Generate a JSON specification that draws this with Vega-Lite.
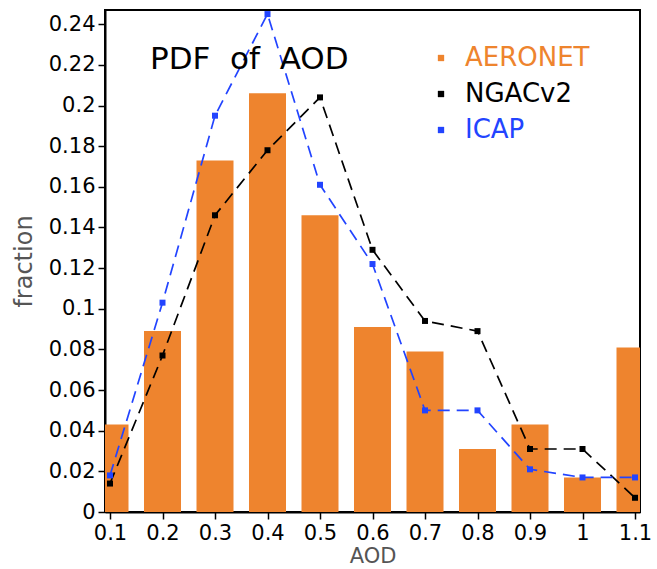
{
  "$schema": "https://vega.github.io/schema/vega-lite/v6.json",
  "width": 535,
  "height": 502,
  "autosize": {"type": "none"},
  "padding": {"left": 105, "top": 10, "right": 17, "bottom": 57},
  "background": "white",
  "config": {
    "font": "DejaVu Sans",
    "view": {"stroke": "black", "strokeWidth": 2},
    "axis": {
      "domainColor": "black", "domainWidth": 2,
      "tickColor": "black", "tickWidth": 1.5, "tickSize": 7,
      "labelColor": "black", "labelFont": "DejaVu Sans", "labelFontSize": 21,
      "titleFont": "DejaVu Sans", "titleFontWeight": "normal", "titleColor": "#555555",
      "grid": false
    }
  },
  "title": {
    "text": "PDF\u00a0\u00a0of\u00a0\u00a0AOD",
    "font": "DejaVu Sans",
    "fontSize": 31,
    "fontWeight": "normal",
    "color": "black",
    "anchor": "start",
    "frame": "group",
    "dx": 45,
    "offset": -66
  },
  "datasets": {
    "aeronet": [
      {"aod": 0.1, "value": 0.043, "series": "AERONET"},
      {"aod": 0.2, "value": 0.089, "series": "AERONET"},
      {"aod": 0.3, "value": 0.173, "series": "AERONET"},
      {"aod": 0.4, "value": 0.206, "series": "AERONET"},
      {"aod": 0.5, "value": 0.146, "series": "AERONET"},
      {"aod": 0.6, "value": 0.091, "series": "AERONET"},
      {"aod": 0.7, "value": 0.079, "series": "AERONET"},
      {"aod": 0.8, "value": 0.031, "series": "AERONET"},
      {"aod": 0.9, "value": 0.043, "series": "AERONET"},
      {"aod": 1.0, "value": 0.017, "series": "AERONET"},
      {"aod": 1.1, "value": 0.081, "series": "AERONET"}
    ],
    "models": [
      {"aod": 0.1, "value": 0.014, "series": "NGACv2"},
      {"aod": 0.2, "value": 0.077, "series": "NGACv2"},
      {"aod": 0.3, "value": 0.146, "series": "NGACv2"},
      {"aod": 0.4, "value": 0.178, "series": "NGACv2"},
      {"aod": 0.5, "value": 0.204, "series": "NGACv2"},
      {"aod": 0.6, "value": 0.129, "series": "NGACv2"},
      {"aod": 0.7, "value": 0.094, "series": "NGACv2"},
      {"aod": 0.8, "value": 0.089, "series": "NGACv2"},
      {"aod": 0.9, "value": 0.031, "series": "NGACv2"},
      {"aod": 1.0, "value": 0.031, "series": "NGACv2"},
      {"aod": 1.1, "value": 0.007, "series": "NGACv2"},
      {"aod": 0.1, "value": 0.018, "series": "ICAP"},
      {"aod": 0.2, "value": 0.103, "series": "ICAP"},
      {"aod": 0.3, "value": 0.195, "series": "ICAP"},
      {"aod": 0.4, "value": 0.245, "series": "ICAP"},
      {"aod": 0.5, "value": 0.161, "series": "ICAP"},
      {"aod": 0.6, "value": 0.122, "series": "ICAP"},
      {"aod": 0.7, "value": 0.050, "series": "ICAP"},
      {"aod": 0.8, "value": 0.050, "series": "ICAP"},
      {"aod": 0.9, "value": 0.021, "series": "ICAP"},
      {"aod": 1.0, "value": 0.017, "series": "ICAP"},
      {"aod": 1.1, "value": 0.017, "series": "ICAP"}
    ]
  },
  "encoding": {
    "x": {
      "field": "aod", "type": "quantitative",
      "scale": {"domain": [0.1, 1.1], "nice": false, "zero": false},
      "axis": {
        "title": "AOD", "titleFontSize": 21, "titleBaseline": "alphabetic", "titleY": 50,
        "values": [0.1, 0.2, 0.3, 0.4, 0.5, 0.6, 0.7, 0.8, 0.9, 1.0, 1.1],
        "format": "~g", "labelPadding": 3, "labelFlush": false
      }
    },
    "y": {
      "field": "value", "type": "quantitative",
      "scale": {"domain": [0, 0.247], "nice": false},
      "axis": {
        "title": "fraction", "titleFontSize": 24, "titlePadding": 12,
        "values": [0, 0.02, 0.04, 0.06, 0.08, 0.1, 0.12, 0.14, 0.16, 0.18, 0.2, 0.22, 0.24],
        "format": "~g", "labelPadding": 3, "labelFlush": false
      }
    },
    "color": {
      "field": "series", "type": "nominal",
      "scale": {"domain": ["AERONET", "NGACv2", "ICAP"], "range": ["#EE842E", "#000000", "#2244FF"]},
      "legend": {
        "title": null,
        "orient": "none",
        "legendX": 323,
        "legendY": 35,
        "symbolType": "square",
        "symbolSize": 40,
        "symbolStrokeWidth": 0,
        "labelFontSize": 26,
        "labelFont": "DejaVu Sans",
        "labelOffset": 11,
        "rowPadding": 10,
        "encode": {
          "labels": {"update": {"fill": {"scale": "color", "field": "value"}}},
          "symbols": {"update": {"fill": {"scale": "color", "field": "value"}, "stroke": {"value": "transparent"}}}
        }
      }
    }
  },
  "layer": [
    {
      "data": {"name": "aeronet"},
      "mark": {"type": "bar", "size": 37, "clip": true}
    },
    {
      "data": {"name": "models"},
      "mark": {"type": "line", "strokeWidth": 1.7, "strokeDash": [12, 7]}
    },
    {
      "data": {"name": "models"},
      "mark": {"type": "point", "shape": "square", "filled": true, "size": 36, "opacity": 1}
    }
  ]
}
